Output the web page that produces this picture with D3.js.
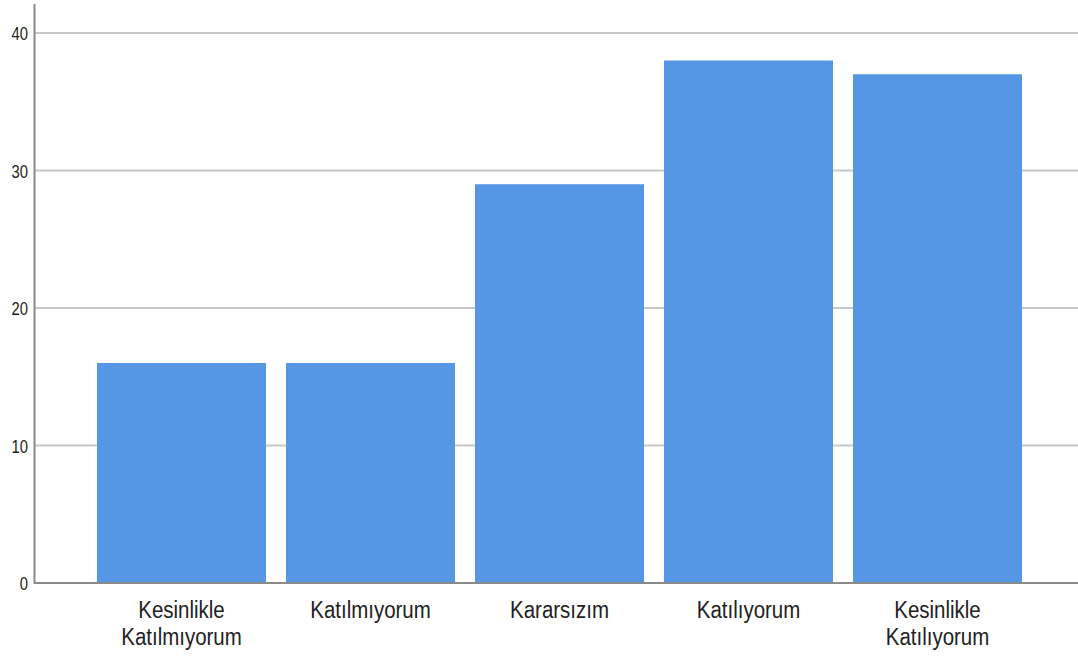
<!DOCTYPE html>
<html><head><meta charset="utf-8">
<script src="https://cdn.jsdelivr.net/npm/d3@7/dist/d3.min.js"></script>
<style>html,body{margin:0;padding:0;background:#fff;overflow:hidden}</style>
</head><body>
<svg id="chart" width="1078" height="657"></svg>
<script>
const categories = [["Kesinlikle","Katılmıyorum"],["Katılmıyorum"],["Kararsızım"],["Katılıyorum"],["Kesinlikle","Katılıyorum"]];
const values = [16, 16, 29, 38, 37];
const yTicks = [0, 10, 20, 30, 40];

const svg = d3.select("#chart");
const x0 = 35, x1 = 1084, yBottom = 583, yTop = 33;
const x = d3.scaleBand().domain(d3.range(values.length)).range([x0, x1])
  .paddingInner(20/189).paddingOuter(62/189);
const y = d3.scaleLinear().domain([0, 40]).range([yBottom, yTop]);

// gridlines
svg.append("g").selectAll("line").data(yTicks.filter(d => d > 0)).join("line")
  .attr("x1", x0).attr("x2", 1078)
  .attr("y1", d => y(d)).attr("y2", d => y(d))
  .attr("stroke", "#c8c8c8").attr("stroke-width", 2);

// bars
svg.append("g").selectAll("rect").data(values).join("rect")
  .attr("x", (d, i) => x(i)).attr("width", x.bandwidth())
  .attr("y", d => y(d)).attr("height", d => y(0) - y(d))
  .attr("fill", "#5596e5");

// axes lines
svg.append("line").attr("x1", 34.5).attr("x2", 34.5).attr("y1", 4).attr("y2", yBottom + 1)
  .attr("stroke", "#8a8a8a").attr("stroke-width", 2);
svg.append("line").attr("x1", 34).attr("x2", 1078).attr("y1", yBottom).attr("y2", yBottom)
  .attr("stroke", "#8a8a8a").attr("stroke-width", 2);

// y tick labels
svg.append("g").selectAll("text").data(yTicks).join("text")
  .attr("transform", d => `translate(28,${y(d) + 7}) scale(0.78,1)`)
  .attr("text-anchor", "end")
  .attr("font-family", "Liberation Sans, Arial, sans-serif")
  .attr("font-size", 19).attr("fill", "#222")
  .text(d => d);

// x labels
const xl = svg.append("g").selectAll("g").data(categories).join("g")
  .attr("transform", (d, i) => `translate(${x(i) + x.bandwidth()/2},0)`);
xl.each(function(lines) {
  const g = d3.select(this);
  lines.forEach((t, j) => {
    g.append("text")
      .attr("transform", `translate(0,${618 + j*27}) scale(0.89,1)`)
      .attr("text-anchor", "middle")
      .attr("font-family", "Liberation Sans, Arial, sans-serif")
      .attr("font-size", 23).attr("fill", "#222")
      .text(t);
  });
});
</script>
</body></html>
